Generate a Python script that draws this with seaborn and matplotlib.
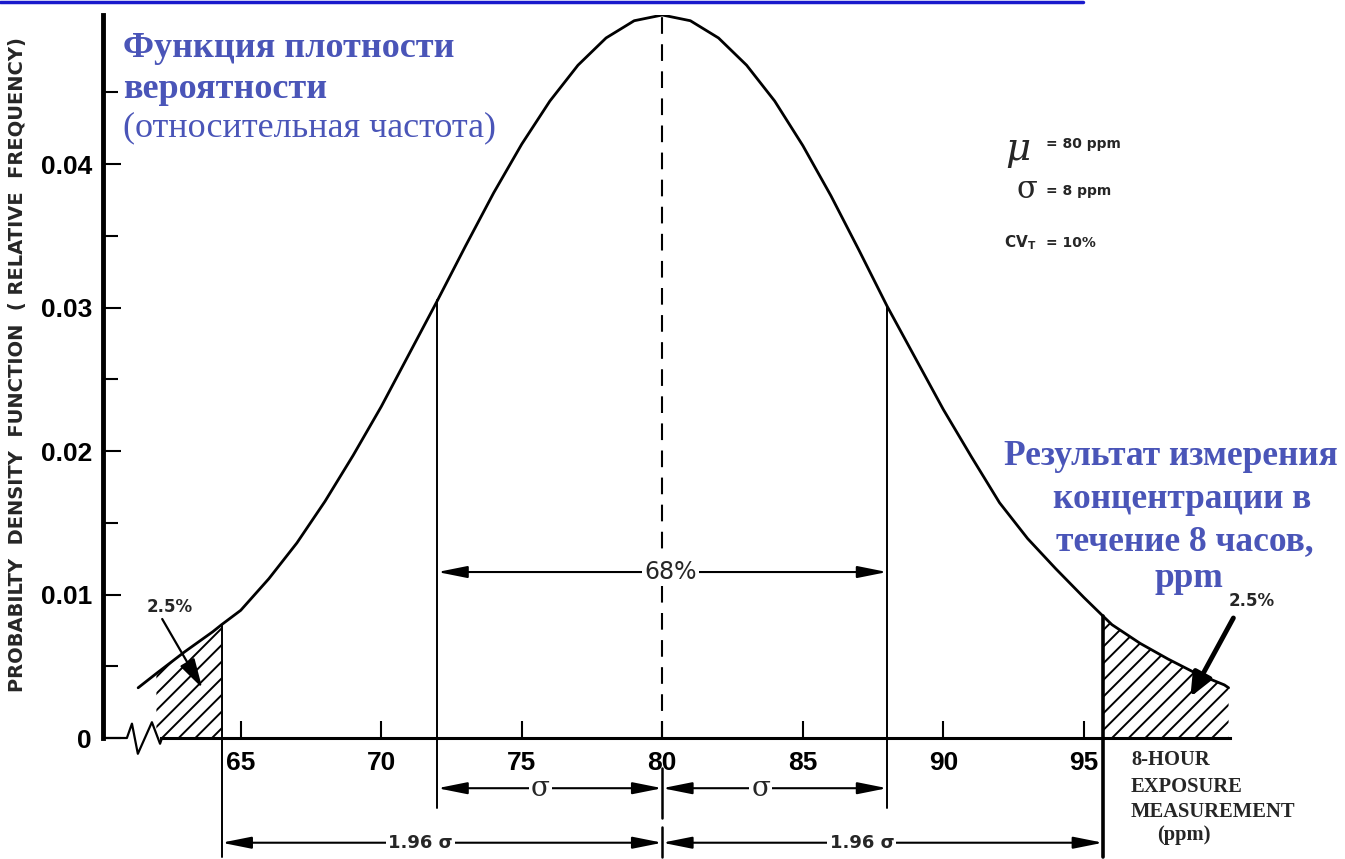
import numpy as np
import pandas as pd
import seaborn as sns
import matplotlib.pyplot as plt
from matplotlib.lines import Line2D

# curve: concentration (ppm) and relative frequency
conc = [61.35, 62, 63, 64, 64.32, 65, 66, 67, 68, 69, 70, 71, 72, 73, 74, 75, 76, 77, 78, 79, 80,
        81, 82, 83, 84, 85, 86, 87, 88, 89, 90, 91, 92, 93, 94, 95, 95.68, 96, 97, 98, 99, 100, 100.15]
dens = [0.0035, 0.0045, 0.0060, 0.0074, 0.0079, 0.0089, 0.0111, 0.0136, 0.0165, 0.0197, 0.0231,
        0.0268, 0.0305, 0.0343, 0.0380, 0.0414, 0.0444, 0.0469, 0.0488, 0.0500, 0.0504,
        0.0500, 0.0488, 0.0469, 0.0444, 0.0413, 0.0378, 0.0340, 0.0301, 0.0265, 0.0229,
        0.0196, 0.0164, 0.0139, 0.0118, 0.0098, 0.0085, 0.0079, 0.0066, 0.0055, 0.0045, 0.0037, 0.0035]

x_ticks = [65, 70, 75, 80, 85, 90, 95]
y_ticks = [0, 0.01, 0.02, 0.03, 0.04]
y_tick_labels = ['0', '0.01', '0.02', '0.03', '0.04']
y_minor = [0.005, 0.015, 0.025, 0.035, 0.045]

mean_mark = 80
sigma_marks = [72, 88]
tail_marks = [64.32, 95.68]
left_tail = (62.0, 64.32)
right_tail = (95.68, 100.15)

BLUE = '#4a55b8'
W, H = 1345, 859

sns.set_theme(style='ticks')
plt.rcParams['font.family'] = ['Liberation Sans', 'DejaVu Sans']
plt.rcParams['hatch.linewidth'] = 1.4
plt.rcParams['mathtext.fontset'] = 'dejavusans'

df = pd.DataFrame({'conc': conc, 'dens': dens})
curve = dict(zip(conc, dens))

fig = plt.figure(figsize=(W / 100, H / 100), dpi=100)
ax = fig.add_axes([103 / W, 121 / H, 1127 / W, 723 / H])

sns.lineplot(data=df, x='conc', y='dens', color='black', lw=2.0, ax=ax, zorder=4)

# hatched tails
for lo, hi in (left_tail, right_tail):
    sub = df[(df.conc >= lo) & (df.conc <= hi)]
    ax.fill_between(sub.conc, 0, sub.dens, facecolor='none', edgecolor='black',
                    linewidth=0, hatch='//')

ax.set_xlim(60.1, 100.2)
ax.set_ylim(0, 0.0504)
ax.set_xlabel('')
ax.set_ylabel('')

ax.set_xticks(x_ticks)
ax.set_xticklabels([str(t) for t in x_ticks], fontsize=19, fontweight='bold')
ax.set_yticks(y_ticks)
ax.set_yticklabels(y_tick_labels, fontsize=19, fontweight='bold')
ax.set_yticks(y_minor, minor=True)
ax.tick_params(axis='x', direction='in', length=12, width=1.5, pad=9,
               color='black', labelcolor='black')
ax.tick_params(axis='y', which='major', direction='in', length=13, width=1.5, pad=8,
               color='black', labelcolor='black')
ax.tick_params(axis='y', which='minor', direction='in', length=11, width=1.5, color='black')

sns.despine(ax=ax)
ax.spines['left'].set_linewidth(3.5)
ax.spines['left'].set_color('black')
ax.spines['bottom'].set_linewidth(2.2)
ax.spines['bottom'].set_color('black')
ax.spines['bottom'].set_bounds(62.15, 100.2)

# axis break zigzag
ax.plot([60.1, 60.95, 61.13, 61.34, 61.84, 62.13, 62.2],
        [0, 0, 0.0010, -0.0011, 0.0011, -0.0004, 0],
        color='black', lw=1.6, clip_on=False)

# vertical reference lines
for m in sigma_marks:
    ax.plot([m, m], [curve[m], -0.0049], color='black', lw=1.4, clip_on=False)
for m, lw in zip(tail_marks, (1.4, 2.6)):
    ax.plot([m, m], [curve[m], -0.0083], color='black', lw=lw, clip_on=False)
ax.plot([mean_mark, mean_mark], [0, 0.0504], color='black', lw=1.5, ls=(0, (8, 5)))
ax.plot([mean_mark, mean_mark], [-0.0021, -0.0056], color='black', lw=1.8, clip_on=False)
ax.plot([mean_mark, mean_mark], [-0.0062, -0.0083], color='black', lw=1.8, clip_on=False)


def dim_arrow(x0, x1, y, label, lx, size, family=None, weight='normal'):
    ax.annotate('', xy=(x1, y), xytext=(x0, y), annotation_clip=False,
                arrowprops=dict(arrowstyle='<|-|>,head_length=0.9,head_width=0.18',
                                color='black', lw=1.5, shrinkA=0, shrinkB=0,
                                mutation_scale=20))
    ax.text(lx, y, label, ha='center', va='center', fontsize=size, family=family,
            fontweight=weight, clip_on=False, zorder=6,
            bbox=dict(fc='white', ec='none', pad=1.5))


dim_arrow(sigma_marks[0], sigma_marks[1], 0.01157, '68%', 80.3, 17, 'DejaVu Sans')
dim_arrow(sigma_marks[0], mean_mark, -0.0035, 'σ', 75.66, 20, 'DejaVu Serif')
dim_arrow(mean_mark, sigma_marks[1], -0.0035, 'σ', 83.5, 20, 'DejaVu Serif')
dim_arrow(tail_marks[0], mean_mark, -0.0073, '1.96 σ', 71.4, 13, 'DejaVu Sans', 'bold')
dim_arrow(mean_mark, tail_marks[1], -0.0073, '1.96 σ', 87.1, 13, 'DejaVu Sans', 'bold')


def px(x, y):
    return 80 + (x - 662) / 28.1, (738 - y) / 14345


# 2.5% pointers
ax.annotate('', xy=px(202, 688), xytext=px(162, 619), annotation_clip=False,
            arrowprops=dict(arrowstyle='-|>,head_length=0.9,head_width=0.25', color='black',
                            lw=1.6, shrinkA=0, shrinkB=0, mutation_scale=20))
ax.annotate('', xy=px(1190, 697), xytext=px(1233, 618), annotation_clip=False,
            arrowprops=dict(arrowstyle='-|>,head_length=0.7,head_width=0.3', color='black',
                            lw=3.5, shrinkA=0, shrinkB=0, mutation_scale=20))


def put(x, y, s, **kw):
    fig.text(x / W, 1 - y / H, s, **kw)


put(170, 607, '2.5%', ha='center', va='center', size=12, weight='bold', family='DejaVu Sans')
put(1252, 601, '2.5%', ha='center', va='center', size=12, weight='bold', family='DejaVu Sans')

# blue captions
serif = 'Liberation Serif'
put(123, 57, 'Функция плотности', color=BLUE, family=serif, weight='bold', size=26, va='baseline')
put(123, 98, 'вероятности', color=BLUE, family=serif, weight='bold', size=26, va='baseline')
put(123, 136, '(относительная частота)', color=BLUE, family=serif, size=26, va='baseline')
for text, cx, by in [('Результат измерения', 1171, 465), ('концентрации в', 1182, 508),
                     ('течение 8 часов,', 1185, 550), ('ppm', 1189, 587)]:
    put(cx, by, text, color=BLUE, family=serif, weight='bold', size=25.5, ha='center', va='baseline')

# parameters
put(1018, 150, 'μ', size=28, style='italic', family='DejaVu Serif', ha='center', va='center')
put(1046, 148, '= 80 ppm', size=10, weight='bold', family='DejaVu Sans', va='baseline')
put(1027, 190, 'σ', size=22, family='DejaVu Serif', ha='center', va='center')
put(1046, 195, '= 8 ppm', size=10, weight='bold', family='DejaVu Sans', va='baseline')
put(1004, 247, r'$\mathbf{CV}_\mathbf{T}$', size=11, va='baseline')
put(1046, 247, '= 10%', size=10, weight='bold', family='DejaVu Sans', va='baseline')

# axis titles
put(18, 365, 'PROBABILTY  DENSITY  FUNCTION  ( RELATIVE  FREQUENCY)', rotation=90,
    ha='center', va='center', size=14, weight='bold', family='DejaVu Sans')
for text, lx, by in [('8-HOUR', 1131, 765), ('EXPOSURE', 1131, 792),
                     ('MEASUREMENT', 1131, 817), ('(ppm)', 1157, 840)]:
    put(lx, by, text, family=serif, weight='bold', size=14.8, va='baseline')

# cut-off link underline at the very top
fig.add_artist(Line2D([0, 1083 / W], [1 - 1.5 / H, 1 - 1.5 / H], color='#1a1acc', lw=2.5))

fig.savefig('out.png', dpi=100, facecolor='white')
